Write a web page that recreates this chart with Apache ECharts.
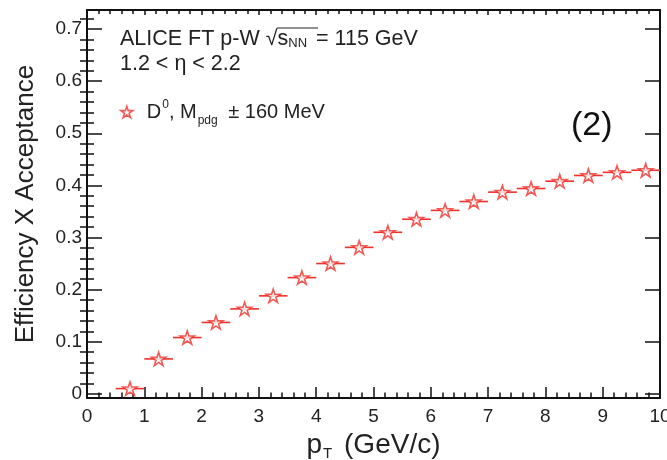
<!DOCTYPE html>
<html><head><meta charset="utf-8">
<script src="https://cdn.jsdelivr.net/npm/echarts@6/dist/echarts.min.js"></script>
<style>html,body{margin:0;padding:0;background:#fff}#c{width:667px;height:460px}</style>
</head><body><div id="c"></div>
<script>
// ---- data ----
const ptCenters = [0.75,1.25,1.75,2.25,2.75,3.25,3.75,4.25,4.75,5.25,5.75,6.25,6.75,7.25,7.75,8.25,8.75,9.25,9.75];
const ptHalfWidth = [0.25,0.25,0.25,0.25,0.25,0.25,0.25,0.25,0.25,0.25,0.25,0.25,0.25,0.25,0.25,0.25,0.25,0.25,0.25];
const effAcc = [0.010,0.067,0.108,0.137,0.163,0.188,0.223,0.250,0.281,0.310,0.335,0.352,0.369,0.387,0.394,0.408,0.419,0.425,0.429];
const yTickLabels = [0,0.1,0.2,0.3,0.4,0.5,0.6,0.7];
const xTickLabels = [0,1,2,3,4,5,6,7,8,9,10];
const yMinor = [];
for (let i = 0; i <= 36; i++) { const v = +(i*0.02).toFixed(2); if (Math.abs(v*10 - Math.round(v*10)) > 1e-6) yMinor.push(v); }

const FONT = '"Liberation Sans", Arial, Helvetica, sans-serif';
const RED = '#f0302a';
const STAR = 'path://M0,-1 L0.2245,-0.309 L0.951,-0.309 L0.363,0.118 L0.588,0.809 L0,0.382 L-0.588,0.809 L-0.363,0.118 L-0.951,-0.309 L-0.2245,-0.309 Z';

const chart = echarts.init(document.getElementById('c'), null, {renderer:'canvas'});
const axisLine = {show:true, onZero:false, lineStyle:{color:'#111', width:2}};
const tickStyle = {color:'#111', width:1.5};

chart.setOption({
  backgroundColor:'#fff',
  animation:false,
  textStyle:{fontFamily:FONT},
  grid:{left:87, right:7, top:10, bottom:62, show:false, outerBoundsMode:'none', containLabel:false},
  legend:{
    left:115, top:94, itemWidth:12, itemHeight:12, itemGap:0,
    icon: STAR,
    data:[{name:'D0', itemStyle:{color:'#fff', borderColor:RED, borderWidth:1.6}}],
    formatter: () => '{t|D}{sup|0}{t|, M}{sub|pdg}{t| ± 160 MeV}',
    textStyle:{
      padding:[0,0,0,9],
      rich:{
        t:{fontSize:20, color:'#222', fontFamily:FONT},
        sup:{fontSize:12, color:'#222', fontFamily:FONT, padding:[0,0,14,1]},
        sub:{fontSize:12, color:'#222', fontFamily:FONT, padding:[18,5,0,1]}
      }
    }
  },
  xAxis:[{
    type:'value', min:0, max:10, interval:1, position:'bottom',
    axisLine:axisLine,
    axisTick:{show:true, inside:true, length:11, lineStyle:tickStyle},
    minorTick:{show:true, splitNumber:5, length:5.5, lineStyle:tickStyle},
    splitLine:{show:false},
    axisLabel:{fontSize:19, color:'#222', margin:9, fontFamily:FONT,
      customValues: xTickLabels},
    name:'{p|p}{s|T}{p| (GeV/c)}', nameLocation:'middle', nameGap:2,
    nameTextStyle:{rich:{
      p:{fontSize:28, color:'#222', fontFamily:FONT},
      s:{fontSize:15, color:'#222', fontFamily:FONT, padding:[18,4,0,1]}
    }}
  },{
    type:'value', min:0, max:10, interval:1, position:'top',
    axisLine:axisLine,
    axisTick:{show:true, inside:true, length:5, lineStyle:tickStyle},
    minorTick:{show:true, splitNumber:5, length:4, lineStyle:tickStyle},
    splitLine:{show:false}, axisLabel:{show:false}
  }],
  yAxis:[{
    type:'value', min:-0.008, max:0.7365, position:'left',
    axisLine:axisLine,
    axisTick:{show:true, inside:true, length:15, lineStyle:tickStyle, customValues:yTickLabels},
    splitLine:{show:false},
    axisLabel:{fontSize:19, color:'#222', margin:5, fontFamily:FONT, customValues:yTickLabels,
      formatter:v => String(+v.toFixed(1))},
    name:'Efficiency X Acceptance', nameLocation:'middle', nameGap:48,
    nameTextStyle:{fontSize:26, color:'#222', fontFamily:FONT}
  },{
    type:'value', min:-0.008, max:0.7365, position:'left', offset:0,
    axisLine:{show:false},
    axisTick:{show:true, inside:true, length:7, lineStyle:tickStyle, customValues:yMinor},
    splitLine:{show:false}, axisLabel:{show:false}
  },{
    type:'value', min:-0.008, max:0.7365, position:'right', offset:0,
    axisLine:axisLine,
    axisTick:{show:true, inside:true, length:15, lineStyle:tickStyle, customValues:yTickLabels},
    splitLine:{show:false}, axisLabel:{show:false}
  },{
    type:'value', min:-0.008, max:0.7365, position:'right', offset:0,
    axisLine:{show:false},
    axisTick:{show:true, inside:true, length:7, lineStyle:tickStyle, customValues:yMinor},
    splitLine:{show:false}, axisLabel:{show:false}
  }],
  graphic:[
    {type:'text', left:120, top:28, style:{
      text:'{t|ALICE FT p-W }{r|√}{t|s}{s|NN}{t| = 115 GeV}',
      rich:{
        t:{fontSize:21.5, fill:'#222', fontFamily:FONT},
        r:{fontSize:21.5, fill:'#222', fontFamily:FONT},
        s:{fontSize:13, fill:'#222', fontFamily:FONT, padding:[9,3,0,0]}
      }}},
    {type:'line', shape:{x1:277, y1:28, x2:318, y2:28}, style:{stroke:'#222', lineWidth:1}},
    {type:'text', left:120, top:53, style:{
      text:'{t|1.2 }{o|<}{t| η }{o|<}{t| 2.2}',
      rich:{
        t:{fontSize:21.5, fill:'#222', fontFamily:FONT},
        o:{fontSize:21.5, fill:'#222', fontFamily:FONT}
      }}},
    {type:'text', left:571, top:109, style:{text:'(2)', fontSize:34, fill:'#111', fontFamily:FONT}}
  ],
  series:[{
    type:'custom', name:'err', xAxisIndex:0, yAxisIndex:0, silent:true,
    data: ptCenters.map((x,i)=>[x, effAcc[i], ptHalfWidth[i]]),
    renderItem:(params, api)=>{
      const x = api.value(0), y = api.value(1), h = api.value(2);
      const a = api.coord([x-h, y]), b = api.coord([x+h, y]);
      return {type:'line', shape:{x1:a[0], y1:a[1], x2:b[0], y2:b[1]},
        style:{stroke:RED, lineWidth:1.6}};
    }
  },{
    type:'scatter', name:'D0', xAxisIndex:0, yAxisIndex:0,
    data: ptCenters.map((x,i)=>[x, effAcc[i]]),
    symbol: STAR, symbolSize:14, symbolKeepAspect:true,
    itemStyle:{color:'#fff', borderColor:RED, borderWidth:1.6},
    z:5
  }]
});
</script></body></html>
